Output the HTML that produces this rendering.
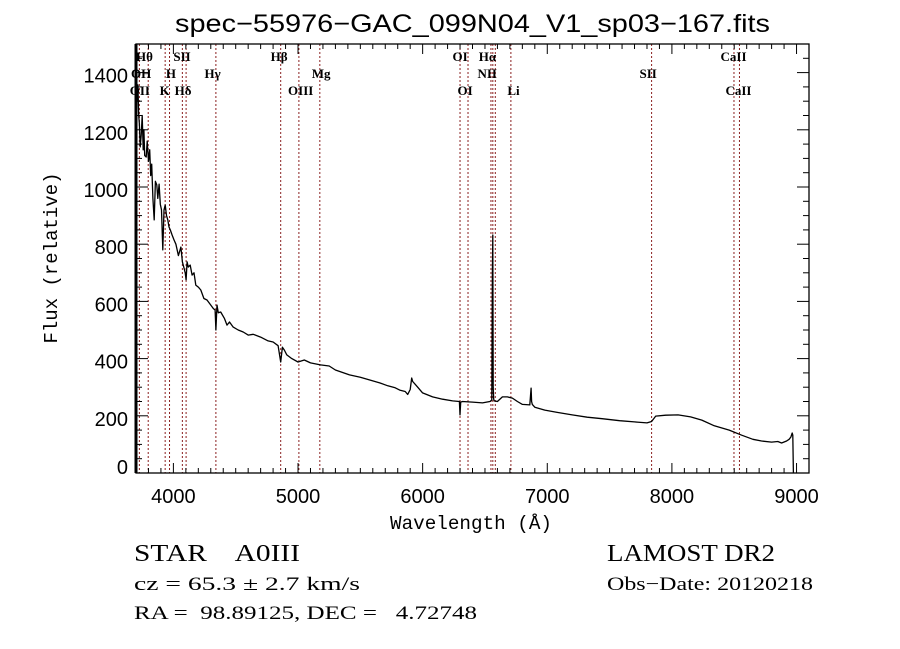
<!DOCTYPE html>
<html><head><meta charset="utf-8">
<style>
body{margin:0;background:#fff;}
svg{display:block;}
</style></head>
<body>
<svg id="chart" width="900" height="649" xmlns="http://www.w3.org/2000/svg">
<rect width="900" height="649" fill="#fff"/>
<text x="175" y="32" textLength="595" lengthAdjust="spacingAndGlyphs" font-family="Liberation Sans, sans-serif" font-size="25">spec−55976−GAC_099N04_V1_sp03−167.fits</text>
<g id="lines"></g>
<g id="spec"></g>
<g id="axes"></g>
<text transform="translate(57,258) rotate(-90)" text-anchor="middle" font-family="Liberation Mono, monospace" font-size="19">Flux (relative)</text>
<text x="390" y="529" textLength="162" lengthAdjust="spacingAndGlyphs" font-family="Liberation Mono, monospace" font-size="19">Wavelength (Å)</text>
<text x="134" y="561" textLength="166" lengthAdjust="spacingAndGlyphs" xml:space="preserve" font-family="Liberation Serif, serif" font-size="24">STAR    A0III</text>
<text x="607" y="561" textLength="168" lengthAdjust="spacingAndGlyphs" font-family="Liberation Serif, serif" font-size="24">LAMOST DR2</text>
<text x="134" y="590" textLength="226" lengthAdjust="spacingAndGlyphs" font-family="Liberation Serif, serif" font-size="19">cz = 65.3 ± 2.7 km/s</text>
<text x="607" y="590" textLength="206" lengthAdjust="spacingAndGlyphs" font-family="Liberation Serif, serif" font-size="19">Obs−Date: 20120218</text>
<text x="134" y="619" textLength="343" lengthAdjust="spacingAndGlyphs" font-family="Liberation Serif, serif" font-size="19" xml:space="preserve">RA =  98.89125, DEC =   4.72748</text>
</svg>
<script>
const xTicks=[4000,5000,6000,7000,8000,9000];
const yTicks=[0,200,400,600,800,1000,1200,1400];
const lineWaves=[3727,3798,3934,3969,4072,4102,4341,4861,5007,5175,6300,6364,6548,6563,6583,6708,7837,8498,8542];
const labelNames=["Hθ","SII","Hβ","OI","Hα","CaII","OH","H","Hγ","Mg","NII","SII","OII","K","Hδ","OIII","OI","Li","CaII"];
const labelWaves=[3700,4000,4780,6240,6450,8390,3660,3940,4250,5110,6440,7740,3650,3890,4010,4920,6280,6680,8430];
const labelRows=[0,0,0,0,0,0,1,1,1,1,1,1,2,2,2,2,2,2,2];
const specWave=[3697,3699,3701,3705,3710,3715,3722,3727,3734,3742,3750,3758,3763,3770,3782,3790,3800,3810,3818,3826,3836,3846,3856,3867,3875,3885,3895,3905,3915,3925,3934,3945,3955,3965,3975,3990,4005,4020,4040,4060,4072,4085,4095,4102,4110,4120,4135,4150,4165,4180,4200,4220,4245,4270,4300,4320,4335,4341,4350,4360,4380,4410,4430,4450,4480,4520,4560,4600,4640,4700,4760,4800,4840,4861,4875,4890,4910,4950,5000,5050,5100,5180,5250,5300,5413,5500,5600,5655,5720,5780,5816,5860,5880,5900,5912,5920,5940,5960,6000,6080,6160,6240,6295,6300,6305,6320,6400,6480,6540,6555,6560,6563,6566,6570,6575,6600,6640,6680,6720,6760,6800,6860,6870,6874,6880,6900,6980,7080,7200,7320,7440,7580,7720,7800,7837,7870,7950,8050,8150,8240,8340,8460,8560,8650,8720,8800,8850,8880,8920,8940,8955,8965,8970,8975];
const specFlux=[5,570,1100,1400,1304,1357,1250,1220,1140,1180,1250,1130,1200,1110,1105,1160,1090,1130,1040,1080,960,885,1020,1007,960,1010,940,920,780,920,937,900,885,860,850,832,815,800,760,790,738,717,700,675,738,720,727,692,700,657,650,640,610,605,587,575,570,500,587,560,563,540,517,528,510,500,493,482,485,475,462,458,445,388,440,430,413,400,388,395,385,378,374,360,343,335,322,315,305,298,290,285,275,292,332,320,310,300,280,266,258,252,250,203,248,250,248,245,250,255,700,832,300,258,252,250,266,266,262,250,240,238,297,250,240,230,220,212,203,195,190,183,178,175,180,199,202,203,196,185,165,150,132,118,112,108,110,105,112,118,126,140,132,0];
const X0=136,X1=809,Y0=44,Y1=473,W0=3700,W1=9100,F0=0,F1=1500;
function xs(w){return X0+(w-W0)/(W1-W0)*(X1-X0);}
function ys(f){return Y1-(f-F0)/(F1-F0)*(Y1-Y0);}
const NS="http://www.w3.org/2000/svg";
function mk(tag,attrs,parent,txt){const e=document.createElementNS(NS,tag);for(const k in attrs)e.setAttribute(k,attrs[k]);if(txt!==undefined)e.textContent=txt;parent.appendChild(e);return e;}
const gl=document.getElementById('lines');
lineWaves.forEach(w=>{
  const l=mk('line',{x1:xs(w),x2:xs(w),y1:Y0,y2:Y1,stroke:'#8b2020','stroke-width':1,'stroke-dasharray':'2,2'},gl);
  
  
});
const rowY=[61,78,95];
labelNames.forEach((n,i)=>{
  const t=mk('text',{x:xs(labelWaves[i]),y:rowY[labelRows[i]],'font-family':'Liberation Serif, serif','font-size':13,'font-weight':'bold'},gl,n);
  
  
});
const gs=document.getElementById('spec');
let d='';
specWave.forEach((w,i)=>{d+=(i?'L':'M')+xs(w).toFixed(1)+','+ys(specFlux[i]).toFixed(1);});
const p=mk('path',{d:d,fill:'none',stroke:'#000','stroke-width':1.3,'stroke-linejoin':'round'},gs);


const ga=document.getElementById('axes');
const fr=mk('rect',{x:X0,y:Y0,width:X1-X0,height:Y1-Y0,fill:'none',stroke:'#000','stroke-width':1.3},ga);


mk('line',{x1:X0,x2:X0,y1:Y0,y2:Y1,stroke:'#000','stroke-width':3},ga);
for(let w=3700;w<=9100;w+=100){
  const major=w%1000===0;const len=major?10:5;const x=xs(w);
  mk('line',{x1:x,x2:x,y1:Y1,y2:Y1-len,stroke:'#000','stroke-width':1},ga);
  mk('line',{x1:x,x2:x,y1:Y0,y2:Y0+len,stroke:'#000','stroke-width':1},ga);
}
for(let f=0;f<=1500;f+=50){
  const major=f%200===0;const len=major?12:6;const y=ys(f);
  mk('line',{x1:X0,x2:X0+len,y1:y,y2:y,stroke:'#000','stroke-width':1},ga);
  mk('line',{x1:X1,x2:X1-len,y1:y,y2:y,stroke:'#000','stroke-width':1},ga);
}
xTicks.forEach(w=>{
  const t=mk('text',{x:xs(w),y:503,'text-anchor':'middle','font-family':'Liberation Sans, sans-serif','font-size':20},ga,String(w));
  
  
});
yTicks.forEach(f=>{
  const t=mk('text',{x:128,y:(f===0?ys(f)+1:ys(f)+10),'text-anchor':'end','font-family':'Liberation Sans, sans-serif','font-size':20},ga,String(f));
  
  
});
</script>
</body></html>
